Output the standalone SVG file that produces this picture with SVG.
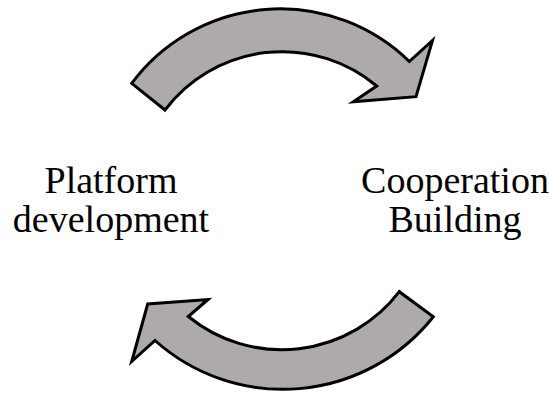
<svg xmlns="http://www.w3.org/2000/svg" width="549" height="393" viewBox="0 0 549 393">
  <style>
    .arrow { fill: #aeaaa9; stroke: #000; stroke-width: 3; stroke-linejoin: miter; }
    .label { font-family: "Liberation Serif", "Times New Roman", serif; font-size: 38px; fill: #000; text-anchor: middle; }
  </style>
  <rect width="549" height="393" fill="#fff"/>
  <g id="connectors">
    <!-- upper curved arrow, left to right -->
    <path id="arrow-top" class="arrow" d="M131.7,83.3 A185,185 0 0 1 409.3,61.5 L432.5,40.5 L416,96.7 L353.3,101.7 L376.7,86 A147,147 0 0 0 165,110 Z"/>
    <!-- lower curved arrow, right to left -->
    <path id="arrow-bottom" class="arrow" d="M433.3,316.7 A192,192 0 0 1 155,340.5 L131.7,361.5 L147.7,304 L208,299.5 L188.3,316.5 A148,148 0 0 0 399.3,291.7 Z"/>
  </g>
  <g id="node-platform">
    <text class="label" x="111" y="193">Platform</text>
    <text class="label" x="111" y="232">development</text>
  </g>
  <g id="node-cooperation">
    <text class="label" x="455" y="193">Cooperation</text>
    <text class="label" x="455" y="232">Building</text>
  </g>
</svg>
